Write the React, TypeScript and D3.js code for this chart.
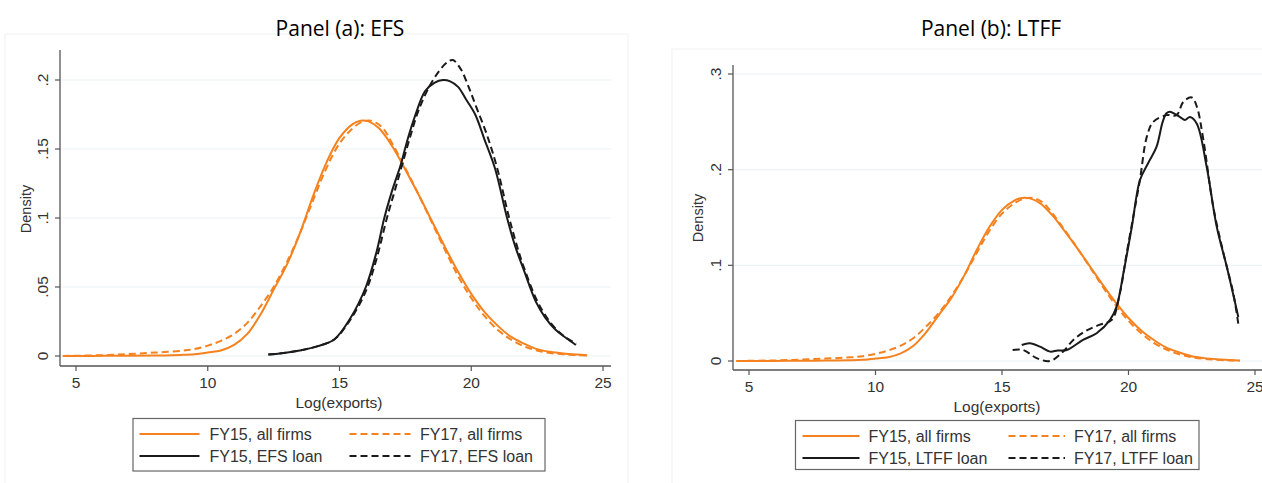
import * as d3 from 'd3';

// kernel density curves as [log(exports), density]
const allFirmsFY15: [number, number][] = [
  [4.5, 0], [5, 0], [6, 0.0001], [7, 0.0002], [8, 0.0004], [9, 0.0008], [9.5, 0.0013],
  [10, 0.0025], [10.5, 0.004], [11, 0.008], [11.5, 0.016], [12, 0.03], [12.5, 0.048],
  [13, 0.066], [13.5, 0.089], [14, 0.116], [14.5, 0.14], [15, 0.158], [15.5, 0.168],
  [15.8, 0.1705], [16.1, 0.17], [16.5, 0.165], [17, 0.152], [17.5, 0.135], [18, 0.117],
  [18.5, 0.098], [19, 0.079], [19.5, 0.061], [20, 0.045], [20.5, 0.032], [21, 0.022],
  [21.5, 0.014], [22, 0.009], [22.5, 0.005], [23, 0.003], [23.5, 0.0018], [24, 0.001], [24.4, 0.0005],
];
const allFirmsFY17: [number, number][] = [
  [4.5, 0], [5, 0.0002], [6, 0.0006], [7, 0.0014], [8, 0.0025], [9, 0.0038], [9.5, 0.005],
  [10, 0.0075], [10.5, 0.011], [11, 0.016], [11.5, 0.024], [12, 0.036], [12.5, 0.05],
  [13, 0.068], [13.5, 0.089], [14, 0.113], [14.5, 0.136], [15, 0.154], [15.5, 0.165],
  [15.9, 0.17], [16.2, 0.1705], [16.6, 0.166], [17, 0.154], [17.5, 0.136], [18, 0.117],
  [18.5, 0.097], [19, 0.077], [19.5, 0.058], [20, 0.042], [20.5, 0.029], [21, 0.019],
  [21.5, 0.012], [22, 0.007], [22.5, 0.004], [23, 0.0022], [23.5, 0.0012], [24, 0.0006], [24.4, 0.0003],
];
const efsFY15: [number, number][] = [
  [12.3, 0.001], [12.8, 0.002], [13.5, 0.004], [14.15, 0.007], [14.8, 0.012], [15.4, 0.027],
  [16.0, 0.05], [16.4, 0.075], [16.7, 0.1], [17.0, 0.12], [17.33, 0.139], [17.6, 0.158],
  [17.85, 0.173], [18.25, 0.192], [18.6, 0.198], [18.93, 0.2], [19.2, 0.199], [19.5, 0.195],
  [19.8, 0.186], [20.15, 0.175], [20.5, 0.157], [20.9, 0.136], [21.36, 0.1], [21.66, 0.08],
  [22.0, 0.062], [22.46, 0.039], [22.8, 0.028], [23.2, 0.019], [23.6, 0.013], [23.97, 0.008],
];
const efsFY17: [number, number][] = [
  [12.3, 0.001], [12.8, 0.002], [13.5, 0.004], [14.15, 0.007], [14.8, 0.012], [15.4, 0.026],
  [16.0, 0.047], [16.4, 0.07], [16.8, 0.1], [17.1, 0.12], [17.4, 0.14], [17.7, 0.16],
  [18.0, 0.178], [18.4, 0.195], [18.8, 0.207], [19.1, 0.213], [19.3, 0.2145], [19.6, 0.208],
  [19.9, 0.195], [20.2, 0.18], [20.6, 0.16], [21.0, 0.135], [21.4, 0.103], [21.7, 0.082],
  [22.0, 0.064], [22.5, 0.04], [22.9, 0.027], [23.3, 0.018], [23.7, 0.012], [24.0, 0.009],
];
const ltffFY15: [number, number][] = [
  [15.78, 0.0167], [16.1, 0.0185], [16.5, 0.015], [16.9, 0.0098], [17.2, 0.011], [17.56, 0.0115],
  [18.2, 0.022], [18.74, 0.029], [19.27, 0.043], [19.53, 0.057], [19.8, 0.092], [20.13, 0.14],
  [20.45, 0.189], [20.78, 0.207], [21.11, 0.224], [21.35, 0.25], [21.5, 0.259], [21.64, 0.2606],
  [21.85, 0.258], [22.04, 0.255], [22.23, 0.252], [22.43, 0.255], [22.7, 0.248], [23.09, 0.203],
  [23.49, 0.14], [23.88, 0.099], [24.34, 0.046],
];
const ltffFY17: [number, number][] = [
  [15.42, 0.0115], [15.84, 0.0115], [16.37, 0.003], [16.9, 0], [17.42, 0.01], [17.82, 0.022],
  [18.35, 0.032], [18.87, 0.038], [19.34, 0.043], [19.66, 0.071], [19.93, 0.113], [20.19, 0.151],
  [20.45, 0.189], [20.72, 0.234], [20.98, 0.25], [21.5, 0.257], [21.9, 0.257], [22.17, 0.271],
  [22.5, 0.2755], [22.7, 0.266], [22.96, 0.231], [23.35, 0.161], [23.75, 0.113], [24.14, 0.071],
  [24.34, 0.039],
];

const xTicks = [5, 10, 15, 20, 25];
const yTicksA = [0, 0.05, 0.1, 0.15, 0.2];
const yTicksB = [0, 0.1, 0.2, 0.3];
const legendA = ['FY15, all firms', 'FY17, all firms', 'FY15, EFS loan', 'FY17, EFS loan'];
const legendB = ['FY15, all firms', 'FY17, all firms', 'FY15, LTFF loan', 'FY17, LTFF loan'];

const ORANGE = '#f5821f';
const BLACK = '#1a1a1a';
const GRID = '#eaf2f3';
const AXIS = '#555';
const TXT = '#333';
const FONT = '"Liberation Sans", Arial, sans-serif';
const DASH = '7,4';

const fmt = (v: number) => (v === 0 ? '0' : String(v).replace(/^0/, ''));

interface PanelProps {
  title: string;
  titleX: number;
  xRange: [number, number];
  yRange: [number, number];
  yMax: number;
  yTicks: number[];
  plotLeft: number;
  plotRight: number;
  plotTop: number;
  axisY: number;
  yLabelX: number;
  tickLabelX: number;
  densityX: number;
  densityY: number;
  series: [number, number][][];
  legend: string[];
  legendBox: { x: number; y: number; w: number; h: number };
  legendCols: { lineX0: number; lineX1: number; textX: number }[];
  frame: { x: number; y: number; w: number; h: number };
}

function Panel(p: PanelProps) {
  const x = d3.scaleLinear().domain([5, 25]).range(p.xRange);
  const y = d3.scaleLinear().domain([0, p.yMax]).range(p.yRange);
  const line = d3
    .line<[number, number]>()
    .x((d) => x(d[0]))
    .y((d) => y(d[1]))
    .curve(d3.curveCatmullRom.alpha(0.5));
  const styles = [
    { color: ORANGE, dash: undefined },
    { color: ORANGE, dash: DASH },
    { color: BLACK, dash: undefined },
    { color: BLACK, dash: DASH },
  ];
  const rows = [p.legendBox.y + 15.5, p.legendBox.y + 37.5];
  return (
    <g>
      <rect x={p.frame.x} y={p.frame.y} width={p.frame.w} height={p.frame.h} fill="none" stroke="#f2f2f2" />
      <text x={p.titleX} y={36} textAnchor="middle" fontFamily='"Open Sans", sans-serif' fontSize={21} fill="#000">
        {p.title}
      </text>
      {p.yTicks.map((t) => (
        <line key={'g' + t} x1={p.plotLeft} x2={p.plotRight} y1={y(t)} y2={y(t)} stroke={GRID} strokeWidth={1.2} />
      ))}
      {p.series.map((s, i) => (
        <path
          key={'s' + i}
          d={line(s) ?? ''}
          fill="none"
          stroke={styles[i].color}
          strokeWidth={2}
          strokeDasharray={styles[i].dash}
          strokeLinejoin="round"
        />
      ))}
      {/* y axis */}
      <line x1={p.plotLeft} x2={p.plotLeft} y1={p.plotTop} y2={p.axisY} stroke={AXIS} strokeWidth={1.3} />
      {p.yTicks.map((t) => (
        <g key={'y' + t}>
          <line x1={p.plotLeft - 5} x2={p.plotLeft} y1={y(t)} y2={y(t)} stroke={AXIS} strokeWidth={1.2} />
          <text
            transform={`translate(${p.tickLabelX},${y(t)}) rotate(-90)`}
            textAnchor="middle"
            dy="0.35em"
            fontFamily={FONT}
            fontSize={15.5}
            fill={TXT}
          >
            {fmt(t)}
          </text>
        </g>
      ))}
      <text
        transform={`translate(${p.densityX},${p.densityY}) rotate(-90)`}
        textAnchor="middle"
        dy="0.35em"
        fontFamily={FONT}
        fontSize={14.5}
        fill={TXT}
      >
        Density
      </text>
      {/* x axis */}
      <line x1={p.plotLeft} x2={p.plotRight} y1={p.axisY} y2={p.axisY} stroke={AXIS} strokeWidth={1.3} />
      {xTicks.map((t) => (
        <g key={'x' + t}>
          <line x1={x(t)} x2={x(t)} y1={p.axisY} y2={p.axisY + 5} stroke={AXIS} strokeWidth={1.2} />
          <text x={x(t)} y={p.axisY + 22} textAnchor="middle" fontFamily={FONT} fontSize={15.5} fill={TXT}>
            {t}
          </text>
        </g>
      ))}
      <text x={p.yLabelX} y={p.axisY + 42} textAnchor="middle" fontFamily={FONT} fontSize={15.5} fill={TXT}>
        Log(exports)
      </text>
      {/* legend */}
      <rect
        x={p.legendBox.x}
        y={p.legendBox.y}
        width={p.legendBox.w}
        height={p.legendBox.h}
        fill="#fff"
        stroke="#666"
        strokeWidth={1.2}
      />
      {p.legend.map((label, i) => {
        const col = p.legendCols[i % 2];
        const ry = rows[Math.floor(i / 2)];
        return (
          <g key={'l' + i}>
            <line
              x1={col.lineX0}
              x2={col.lineX1}
              y1={ry}
              y2={ry}
              stroke={styles[i].color}
              strokeWidth={2}
              strokeDasharray={styles[i].dash}
            />
            <text x={col.textX} y={ry} dy="0.35em" fontFamily={FONT} fontSize={16} fill={TXT}>
              {label}
            </text>
          </g>
        );
      })}
    </g>
  );
}

export default function App() {
  return (
    <svg
      width={1262}
      height={483}
      viewBox="0 0 1262 483"
      style={{ position: 'absolute', left: 0, top: 0, background: '#fff' }}
    >
      <rect width={1262} height={483} fill="#fff" />
      <Panel
        title="Panel (a): EFS"
        titleX={340}
        xRange={[76, 603]}
        yRange={[356, 80]}
        yMax={0.2}
        yTicks={yTicksA}
        plotLeft={60}
        plotRight={611}
        plotTop={50}
        axisY={366}
        yLabelX={339}
        tickLabelX={43}
        densityX={26}
        densityY={209}
        series={[allFirmsFY15, allFirmsFY17, efsFY15, efsFY17]}
        legend={legendA}
        legendBox={{ x: 133, y: 418.5, w: 412, h: 52.5 }}
        legendCols={[
          { lineX0: 139.5, lineX1: 199.5, textX: 209.5 },
          { lineX0: 349.5, lineX1: 410.5, textX: 420 },
        ]}
        frame={{ x: 5, y: 34, w: 623, h: 460 }}
      />
      <Panel
        title="Panel (b): LTFF"
        titleX={991}
        xRange={[749, 1255]}
        yRange={[361, 74]}
        yMax={0.3}
        yTicks={yTicksB}
        plotLeft={733}
        plotRight={1262}
        plotTop={65}
        axisY={370}
        yLabelX={997}
        tickLabelX={716}
        densityX={698}
        densityY={218}
        series={[allFirmsFY15, allFirmsFY17, ltffFY15, ltffFY17]}
        legend={legendB}
        legendBox={{ x: 795.5, y: 420.5, w: 403.5, h: 49 }}
        legendCols={[
          { lineX0: 802.5, lineX1: 859.5, textX: 868.5 },
          { lineX0: 1008.5, lineX1: 1065, textX: 1074 },
        ]}
        frame={{ x: 672, y: 49, w: 600, h: 440 }}
      />
    </svg>
  );
}
